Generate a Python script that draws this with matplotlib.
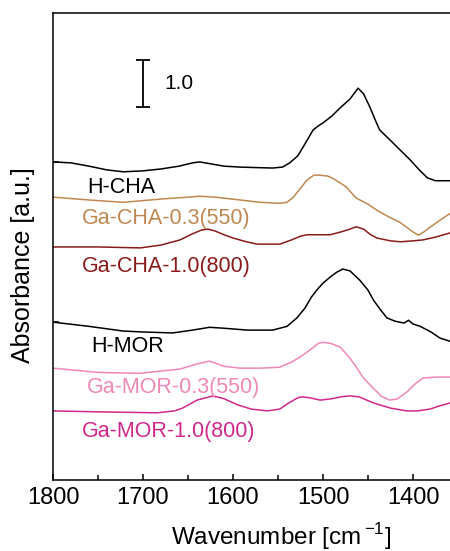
import matplotlib.pyplot as plt
import numpy as np

plt.rcParams['font.family'] = ['Liberation Sans', 'DejaVu Sans']
plt.rcParams['mathtext.fontset'] = 'custom'
plt.rcParams['mathtext.rm'] = 'Liberation Sans'

# spectra: wavenumber [cm-1] and absorbance relative to the value at 1800
h_cha_wn = [1800, 1780, 1760, 1740, 1722, 1700, 1680, 1660, 1645, 1637, 1625, 1610, 1592,
            1575, 1556, 1545, 1537, 1528, 1522, 1515, 1511, 1505, 1500, 1490, 1481, 1470,
            1461, 1455, 1448, 1441, 1437, 1430, 1422, 1412, 1403, 1393, 1384, 1375, 1355]
h_cha_abs = [0, -0.02, -0.09, -0.17, -0.21, -0.19, -0.15, -0.09, -0.02, 0, -0.04, -0.09, -0.11,
             -0.12, -0.13, -0.11, -0.02, 0.13, 0.32, 0.55, 0.68, 0.77, 0.83, 0.98, 1.15, 1.34,
             1.57, 1.45, 1.17, 0.85, 0.68, 0.55, 0.40, 0.21, 0.04, -0.17, -0.34, -0.40, -0.40]

ga_cha03_wn = [1800, 1760, 1722, 1680, 1650, 1637, 1620, 1592, 1570, 1548, 1540, 1533, 1525,
               1518, 1510, 1505, 1495, 1489, 1475, 1463, 1450, 1440, 1426, 1415, 1407, 1400,
               1394, 1388, 1381, 1370, 1355]
ga_cha03_abs = [0, -0.06, -0.11, -0.04, 0, 0.02, 0, -0.06, -0.11, -0.13, -0.11, 0, 0.19,
                0.36, 0.47, 0.47, 0.45, 0.40, 0.23, -0.02, -0.15, -0.28, -0.43, -0.53, -0.64, -0.74,
                -0.81, -0.74, -0.64, -0.49, -0.30]

ga_cha10_wn = [1800, 1750, 1703, 1680, 1659, 1645, 1635, 1628, 1620, 1610, 1600, 1585, 1573,
               1548, 1535, 1525, 1518, 1500, 1492, 1480, 1470, 1463, 1455, 1447, 1440, 1425,
               1414, 1400, 1389, 1375, 1355]
ga_cha10_abs = [0, 0, -0.02, 0.04, 0.15, 0.28, 0.36, 0.38, 0.34, 0.26, 0.19, 0.11, 0.06,
                0.06, 0.15, 0.23, 0.26, 0.26, 0.26, 0.32, 0.38, 0.43, 0.38, 0.26, 0.19, 0.13,
                0.11, 0.13, 0.15, 0.21, 0.32]

h_mor_wn = [1800, 1760, 1722, 1700, 1667, 1645, 1626, 1610, 1584, 1556, 1540, 1529, 1520,
            1513, 1507, 1500, 1492, 1485, 1478, 1470, 1459, 1450, 1444, 1436, 1429, 1420,
            1410, 1405, 1400, 1392, 1380, 1370, 1355]
h_mor_abs = [0, -0.09, -0.19, -0.21, -0.23, -0.17, -0.11, -0.13, -0.17, -0.17, -0.09, 0.09, 0.30,
             0.53, 0.68, 0.83, 0.96, 1.06, 1.13, 1.09, 0.89, 0.68, 0.47, 0.26, 0.09, 0.02,
             -0.02, 0.04, -0.04, -0.09, -0.21, -0.34, -0.43]

ga_mor03_wn = [1800, 1750, 1703, 1680, 1659, 1640, 1626, 1610, 1592, 1570, 1548, 1535, 1526,
               1515, 1505, 1500, 1492, 1481, 1470, 1463, 1455, 1444, 1435, 1426, 1418, 1407,
               1398, 1389, 1375, 1355]
ga_mor03_abs = [0, -0.09, -0.11, -0.06, -0.02, 0.09, 0.15, 0.04, 0, 0, 0.02, 0.13, 0.23,
                0.38, 0.53, 0.55, 0.53, 0.45, 0.21, 0.02, -0.21, -0.43, -0.60, -0.68, -0.66, -0.51,
                -0.34, -0.21, -0.19, -0.19]

ga_mor10_wn = [1800, 1750, 1684, 1665, 1656, 1640, 1622, 1610, 1595, 1580, 1562, 1548, 1538,
               1528, 1523, 1515, 1503, 1490, 1480, 1470, 1460, 1444, 1425, 1407, 1395, 1381,
               1370, 1355]
ga_mor10_abs = [0, -0.02, -0.04, 0, 0.06, 0.23, 0.32, 0.26, 0.13, 0.04, 0, 0.04, 0.17,
                0.28, 0.30, 0.28, 0.23, 0.26, 0.30, 0.32, 0.30, 0.17, 0.06, 0, 0, 0.04,
                0.11, 0.19]

names = ['H-CHA', 'Ga-CHA-0.3(550)', 'Ga-CHA-1.0(800)',
         'H-MOR', 'Ga-MOR-0.3(550)', 'Ga-MOR-1.0(800)']
offsets = [6.77, 6.02, 4.96, 3.36, 2.38, 1.47]
colors = ['black', '#C08850', '#8B1A1A', 'black', '#F088B8', '#D0288C']
spectra = [(h_cha_wn, h_cha_abs), (ga_cha03_wn, ga_cha03_abs), (ga_cha10_wn, ga_cha10_abs),
           (h_mor_wn, h_mor_abs), (ga_mor03_wn, ga_mor03_abs), (ga_mor10_wn, ga_mor10_abs)]
# label anchor (wavenumber, absorbance) for each spectrum
label_x = [1762, 1768, 1768, 1757, 1762, 1768]
label_y = [6.23, 5.57, 4.55, 2.85, 1.96, 1.04]

fig = plt.figure(figsize=(4.5, 5.51), dpi=100)
ax = fig.add_axes([0.1178, 0.1289, 0.89, 0.8475])

for (wn, a), off, c, name, lx, ly in zip(spectra, offsets, colors, names, label_x, label_y):
    ax.plot(wn, np.array(a) + off, color=c, lw=1.1)
    ax.text(lx, ly, name, color=c, fontsize=15.5, va='center', ha='left')

# scale bar
ax.errorbar([1700], [8.44], yerr=0.5, color='black', capsize=4.7, elinewidth=1.3, capthick=1.3)
ax.text(1676, 8.45, '1.0', fontsize=15, va='center', ha='left')

ax.set_xlim(1800, 1355)
ax.set_ylim(0, 9.94)
ax.set_xticks([1800, 1700, 1600, 1500, 1400])
ax.set_xticks([1750, 1650, 1550, 1450], minor=True)
ax.set_yticks([3.36, 6.77])
ax.set_yticklabels([])
ax.tick_params(axis='both', which='both', direction='in', width=1.1)
ax.tick_params(axis='both', which='major', length=4)
ax.tick_params(axis='x', which='minor', length=3.5)
ax.tick_params(axis='x', labelsize=17, pad=5)
ax.spines['right'].set_visible(False)
for s in ['left', 'top', 'bottom']:
    ax.spines[s].set_linewidth(1.1)

ax.set_xlabel(r'Wavenumber [cm$^{\,\mathregular{-1}}$]', fontsize=17.5)
ax.xaxis.set_label_coords(0.569, -0.088)
ax.set_ylabel('Absorbance [a.u.]', fontsize=18)
ax.yaxis.set_label_coords(-0.046, 0.46)

fig.savefig('out.png', dpi=100)
